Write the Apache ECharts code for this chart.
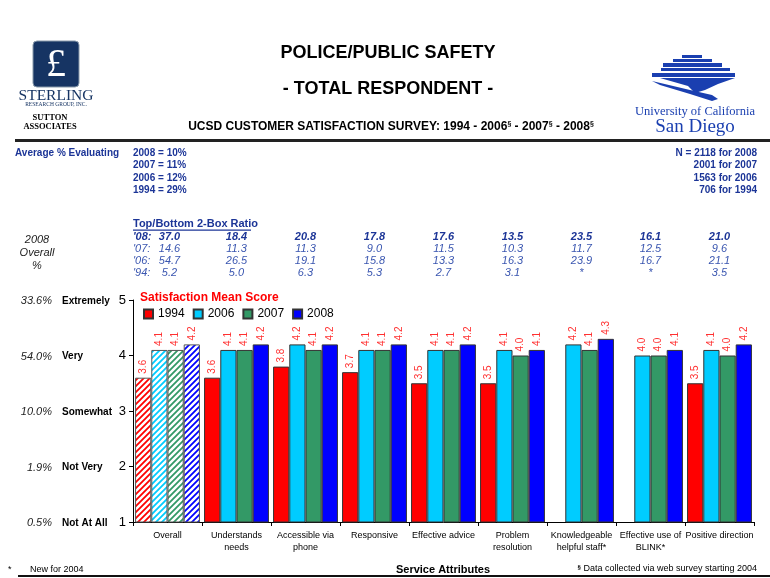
<!DOCTYPE html>
<html><head><meta charset="utf-8">
<script src="https://cdn.jsdelivr.net/npm/echarts@6/dist/echarts.min.js"></script>
<style>html,body{margin:0;padding:0;background:#fff}#c{width:770px;height:578px}</style>
</head><body><div id="c"></div>
<script>
const categories = ['Overall','Understands\nneeds','Accessible via\nphone','Responsive','Effective advice','Problem\nresolution','Knowledgeable\nhelpful staff*','Effective use of\nBLINK*','Positive direction'];
const years = ['1994','2006','2007','2008'];
const s1994 = [3.6,3.6,3.8,3.7,3.5,3.5,null,null,3.5];
const s2006 = [4.1,4.1,4.2,4.1,4.1,4.1,4.2,4.0,4.1];
const s2007 = [4.1,4.1,4.1,4.1,4.1,4.0,4.1,4.0,4.0];
const s2008 = [4.2,4.2,4.2,4.2,4.2,4.1,4.3,4.1,4.2];
const ratio08 = ['37.0','18.4','20.8','17.8','17.6','13.5','23.5','16.1','21.0'];
const ratio07 = ['14.6','11.3','11.3','9.0','11.5','10.3','11.7','12.5','9.6'];
const ratio06 = ['54.7','26.5','19.1','15.8','13.3','16.3','23.9','16.7','21.1'];
const ratio94 = ['5.2','5.0','6.3','5.3','2.7','3.1','*','*','3.5'];
const ratioYears = ["'08:","'07:","'06:","'94:"];
const scaleValues = [1,2,3,4,5];
const scaleWords = ['Not At All','Not Very','Somewhat','Very','Extremely'];
const scalePct = ['0.5%','1.9%','10.0%','54.0%','33.6%'];
const avgEval = ['2008 = 10%','2007 = 11%','2006 = 12%','1994 = 29%'];
const sampleN = ['N = 2118 for 2008','2001 for 2007','1563 for 2006','706 for 1994'];

const FONT = '"Liberation Sans", Arial, sans-serif';
const SERIF = '"Liberation Serif", "DejaVu Serif", serif';
const NAVY = '#1c3597';
const NAVY2 = '#3a56b0';
const colors = ['#ff0000','#00ccff','#339966','#0000ff'];
const seriesData = [s1994, s2006, s2007, s2008];

function hatch(color){
  const c = document.createElement('canvas');
  c.width = 6; c.height = 6;
  const g = c.getContext('2d');
  g.fillStyle = '#fff'; g.fillRect(0,0,6,6);
  g.strokeStyle = color; g.lineWidth = 1.8;
  g.beginPath();
  g.moveTo(-1,7); g.lineTo(7,-1);
  g.moveTo(-4,4); g.lineTo(4,-4);
  g.moveTo(2,10); g.lineTo(10,2);
  g.stroke();
  return {image: c, repeat: 'repeat'};
}

const chart = echarts.init(document.getElementById('c'), null, {renderer:'canvas'});

const series = years.map((y, i) => ({
  name: y,
  type: 'bar',
  barGap: '0%',
  barCategoryGap: '6%',
  itemStyle: {color: colors[i], borderColor: '#333', borderWidth: 1},
  label: {show: true, position: 'top', rotate: 90, align: 'left', verticalAlign: 'middle',
    distance: 4, color: '#ff3030', fontSize: 10, fontFamily: FONT,
    formatter: p => (p.value == null ? '' : Number(p.value).toFixed(1))},
  data: seriesData[i].map((v, j) => j === 0 ? {value: v, itemStyle: {color: hatch(colors[i]), borderColor: '#555'}} : v)
}));

const graphics = [];
function txt(x, y, text, style){
  graphics.push({type:'text', x, y, style: Object.assign({text, fontFamily: FONT, fill:'#000', fontSize: 11}, style)});
}
// header
txt(388, 53, 'POLICE/PUBLIC SAFETY', {fontSize: 18, fontWeight: 'bold', align: 'center', verticalAlign: 'middle'});
txt(388, 89, '- TOTAL RESPONDENT -', {fontSize: 18, fontWeight: 'bold', align: 'center', verticalAlign: 'middle'});
graphics.push({type:'text', x: 391, y: 127, style: {
  text: '{a|UCSD CUSTOMER SATISFACTION SURVEY: 1994 - 2006}{s|§}{a| - 2007}{s|§}{a| - 2008}{s|§}',
  align: 'center', verticalAlign: 'middle', fontFamily: FONT,
  rich: {a: {fontSize: 12, fontWeight: 'bold', fontFamily: FONT, fill: '#000'},
         s: {fontSize: 7, fontWeight: 'bold', fontFamily: FONT, fill: '#000', verticalAlign: 'top', padding: [0,0,6,0]}}
}});
graphics.push({type:'rect', shape:{x:15, y:139, width:755, height:3}, style:{fill:'#222'}});
// Sterling logo
graphics.push({type:'rect', shape:{x:33, y:41, width:46, height:46, r:4}, style:{fill:'#163463', stroke:'#8899aa', lineWidth:1}});
txt(56, 65, '£', {fontSize: 40, fontFamily: SERIF, fill:'#fff', align:'center', verticalAlign:'middle'});
txt(56, 96, 'STERLING', {fontSize: 15.5, fontFamily: SERIF, fill:'#163463', align:'center', verticalAlign:'middle'});
txt(56, 105, 'RESEARCH GROUP, INC.', {fontSize: 5.5, fontFamily: SERIF, fill:'#163463', align:'center', verticalAlign:'middle'});
txt(50, 118, 'SUTTON', {fontSize: 8.5, fontFamily: SERIF, fontWeight:'bold', align:'center', verticalAlign:'middle'});
txt(50, 127, 'ASSOCIATES', {fontSize: 8.5, fontFamily: SERIF, fontWeight:'bold', align:'center', verticalAlign:'middle'});
// UCSD logo
const UB = '#1a3fb0';
[[682,55,20,3],[673,59,39,3],[663,63,59,4],[661,68,69,3],[652,73,83,4]].forEach(r =>
  graphics.push({type:'rect', shape:{x:r[0], y:r[1], width:r[2], height:r[3]}, style:{fill:UB}}));
graphics.push({type:'polygon', shape:{points:[[660,78],[735,78],[718,84],[705,90],[695,93],[688,86]]}, style:{fill:UB}});
graphics.push({type:'polygon', shape:{points:[[652,81],[690,90],[712,95],[718,99],[712,101],[690,94],[660,85]]}, style:{fill:UB}});
txt(695, 112, 'University of California', {fontSize: 12.5, fontFamily: SERIF, fill: UB, align:'center', verticalAlign:'middle'});
txt(695, 127, 'San Diego', {fontSize: 19, fontFamily: SERIF, fill: UB, align:'center', verticalAlign:'middle'});
// stats
txt(15, 153, 'Average % Evaluating', {fontSize: 10, fontWeight:'bold', fill: NAVY, verticalAlign:'middle'});
avgEval.forEach((t, i) => txt(133, 153 + i*12.5, t, {fontSize: 10, fontWeight:'bold', fill: NAVY, verticalAlign:'middle'}));
sampleN.forEach((t, i) => txt(757, 153 + i*12.5, t, {fontSize: 10, fontWeight:'bold', fill: NAVY, align:'right', verticalAlign:'middle'}));
txt(133, 224, 'Top/Bottom 2-Box Ratio', {fontSize: 11, fontWeight:'bold', fill: NAVY, verticalAlign:'middle'});
graphics.push({type:'rect', shape:{x:133, y:229.5, width:118, height:1.2}, style:{fill:NAVY}});
txt(37, 240, '2008', {fontSize: 11, fontStyle:'italic', fill:'#222', align:'center', verticalAlign:'middle'});
txt(37, 253, 'Overall', {fontSize: 11, fontStyle:'italic', fill:'#222', align:'center', verticalAlign:'middle'});
txt(37, 266, '%', {fontSize: 11, fontStyle:'italic', fill:'#222', align:'center', verticalAlign:'middle'});
ratioYears.forEach((t, i) => txt(133, 237 + i*12, t, {fontSize: 11, fontStyle:'italic', fontWeight: i===0?'bold':'normal', fill: i===0?NAVY:NAVY2, verticalAlign:'middle'}));
txt(140, 298, 'Satisfaction Mean Score', {fontSize: 12, fontWeight:'bold', fill:'#ff0000', verticalAlign:'middle'});
// footer
txt(8, 570, '*', {fontSize: 9, verticalAlign:'middle'});
txt(30, 570, 'New for 2004', {fontSize: 9, verticalAlign:'middle'});
txt(443, 570, 'Service Attributes', {fontSize: 11, fontWeight:'bold', align:'center', verticalAlign:'middle'});
graphics.push({type:'text', x: 757, y: 569, style: {text:'{s|§}{a| Data collected via web survey starting 2004}', align:'right', verticalAlign:'middle', fontFamily: FONT,
  rich: {a:{fontSize: 9, fontFamily: FONT, fill:'#000'}, s:{fontSize: 6, fontFamily: FONT, fill:'#000', fontWeight:'bold', padding:[0,0,4,0]}}}});
graphics.push({type:'rect', shape:{x:18, y:575, width:752, height:2}, style:{fill:'#111'}});

const option = {
  backgroundColor: '#fff',
  animation: false,
  textStyle: {fontFamily: FONT},
  grid: {left: 133, right: 16, top: 300, bottom: 56, containLabel: false},
  legend: {data: years, left: 138, top: 303, itemWidth: 9, itemHeight: 9, itemGap: 8, icon: 'rect',
    textStyle: {fontSize: 12, color: '#000', fontFamily: FONT}},
  xAxis: {type: 'category', data: categories,
    axisLine: {lineStyle: {color: '#000', width: 1}},
    axisTick: {show: true, length: 4, lineStyle: {color: '#000'}},
    axisLabel: {interval: 0, fontSize: 9, lineHeight: 12, color: '#000', margin: 8, fontFamily: FONT}},
  yAxis: {type: 'value', min: 1, max: 5, interval: 1,
    splitLine: {show: false},
    axisLine: {show: true, lineStyle: {color: '#000', width: 1}},
    axisTick: {show: true, length: 4, lineStyle: {color: '#000'}},
    axisLabel: {margin: 7, fontSize: 13, color: '#000', fontFamily: FONT}},
  series: series,
  graphic: graphics
};
chart.setOption(option);

const extra = [];
// scale words and percentages aligned with y ticks
scaleValues.forEach((v, i) => {
  const y = chart.convertToPixel({yAxisIndex: 0}, v) + 1;
  extra.push({type:'text', x: 52, y, style: {text: scalePct[i], fontFamily: FONT, fontSize: 11, fontStyle:'italic', fill:'#222', align:'right', verticalAlign:'middle'}});
  extra.push({type:'text', x: 62, y, style: {text: scaleWords[i], fontFamily: FONT, fontSize: 10, fontWeight:'bold', fill:'#000', align:'left', verticalAlign:'middle'}});
});
// ratio table values aligned with category centres
const rows = [ratio08, ratio07, ratio06, ratio94];
rows.forEach((row, r) => row.forEach((t, j) => {
  const x = chart.convertToPixel({xAxisIndex: 0}, j);
  extra.push({type:'text', x: x + (j===0?2:0), y: 237 + r*12, style: {text: t, fontFamily: FONT, fontSize: 11, fontStyle:'italic',
    fontWeight: r===0?'bold':'normal', fill: r===0?NAVY:NAVY2, align:'center', verticalAlign:'middle'}});
}));
chart.setOption({graphic: graphics.concat(extra)});
</script></body></html>
